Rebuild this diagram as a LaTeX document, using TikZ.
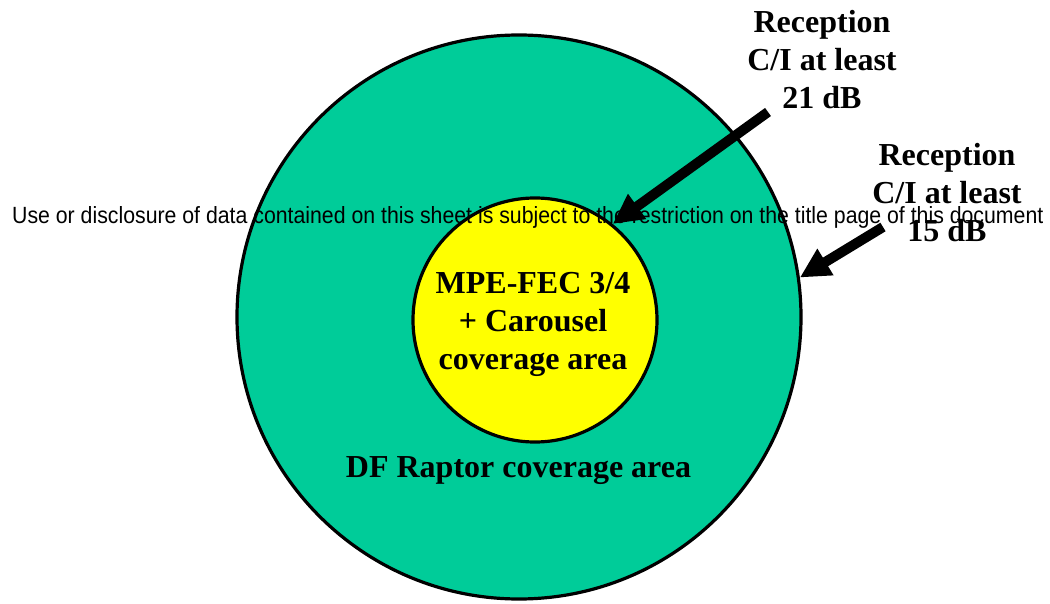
\documentclass[tikz,border=0pt]{standalone}
\usepackage{fontspec}
\setmainfont{Liberation Serif}
\newfontfamily\arialfont{Liberation Sans}
\usetikzlibrary{arrows.meta}
\definecolor{areagreen}{RGB}{0,204,153}
\definecolor{areayellow}{RGB}{255,255,0}
\tikzset{
  zone/.style={circle, draw=black, line width=3.2pt, inner sep=0pt},
  bigtxt/.style={font=\fontsize{32}{38}\selectfont\bfseries, align=center, inner sep=0pt},
  fatarrow/.style={line width=10pt, -{Triangle[length=30pt,width=29pt]}}
}
\begin{document}
\begin{tikzpicture}[x=1pt,y=-1pt]
\useasboundingbox (0,0) rectangle (1050,604);
\fill[white] (0,0) rectangle (1050,604);
\node[zone, fill=areagreen, minimum size=564pt] (outer) at (519,317) {};
\node[zone, fill=areayellow, minimum size=244pt] (inner) at (535,320) {};
\node[bigtxt] (mpe) at (533,324.5) {MPE-FEC 3/4\\+ Carousel\\coverage area};
\node[bigtxt, anchor=base] (df) at (518.5,477) {DF Raptor coverage area};
\node[bigtxt] (rec21) at (822,60) {Reception\\C/I at least\\21 dB};
\node[bigtxt] (rec15) at (947,193) {Reception\\C/I at least\\15 dB};
\coordinate (t1) at (768,112);
\coordinate (t2) at (883,227);
\draw[fatarrow] (t1) -- (inner.51.7);
\draw[fatarrow] (t2) -- (outer.8.6);
\node[anchor=base west, inner sep=0pt] (notice) at (12,223.3) {\resizebox{1031pt}{17pt}{\arialfont Use or disclosure of data contained on this sheet is subject to the restriction on the title page of this document}};
\end{tikzpicture}
\end{document}
